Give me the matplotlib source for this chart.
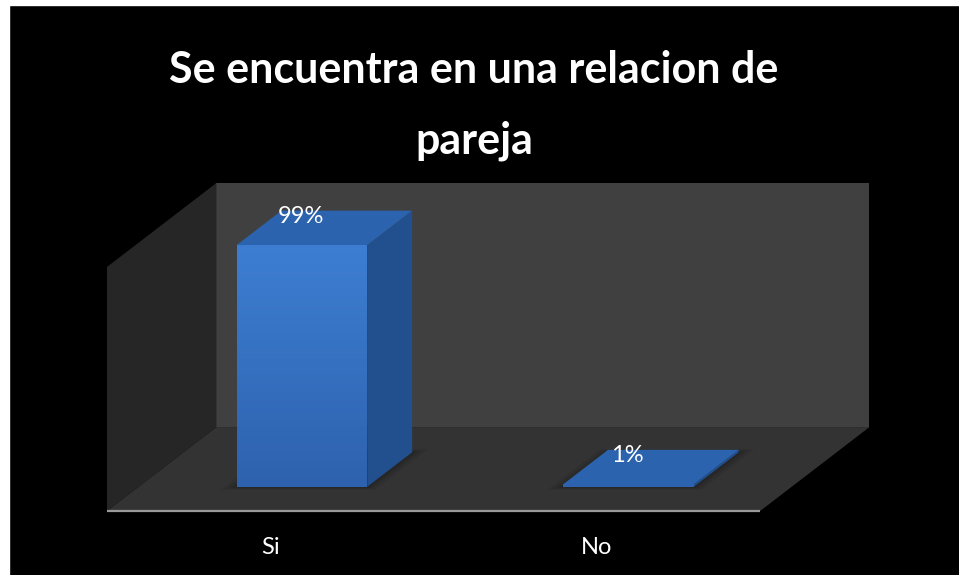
import numpy as np
import matplotlib
matplotlib.use("Agg")
import matplotlib.pyplot as plt
from matplotlib.patches import Polygon, Rectangle

# chart data
categories = ["Si", "No"]
values = [0.99, 0.01]
labels = ["99%", "1%"]
title_lines = ["Se encuentra en una relacion de", "pareja"]

# oblique 3d look: depth offset of the back plane, in data units
DX, DY = 0.335, 0.344
BAR_W = 0.4
BAR_D0, BAR_D1 = 0.29, 0.70

WALL = "#404040"
SIDE = "#262626"
FLOOR = "#333333"
FRONT_TOP, FRONT_BOT = "#3d7ed2", "#2e62ae"
TOP = "#2c63ae"
RIGHT = "#22508f"


def proj(x, v, d):
    return (x + d * DX, v + d * DY)


def poly(ax, pts, color, z=1, **kw):
    p = Polygon([proj(*q) for q in pts], closed=True, facecolor=color,
                edgecolor="none", zorder=z, **kw)
    ax.add_patch(p)
    return p


fig = plt.figure(figsize=(9.591, 5.751), dpi=100, facecolor="black")
ax = fig.add_axes([0, 0, 1, 1])
ax.set_facecolor("black")
ax.set_xlim(-0.8277, 2.1095)
ax.set_ylim(-0.262, 2.094)
ax.axis("off")

n = len(categories)
x0, x1 = -0.5, n - 0.5

# walls and floor
poly(ax, [(x0, 0, 1), (x1, 0, 1), (x1, 1, 1), (x0, 1, 1)], WALL)
poly(ax, [(x0, 0, 0), (x0, 0, 1), (x0, 1, 1), (x0, 1, 0)], SIDE)
poly(ax, [(x0, 0, 0), (x1, 0, 0), (x1, 0, 1), (x0, 0, 1)], FLOOR)
ax.plot([x0, x1], [0, 0], color="#9a9a9a", lw=1.6, zorder=2,
        solid_capstyle="butt")

# vertical gradient used for the bar fronts
grad = np.linspace(0, 1, 256).reshape(-1, 1)
cmap = matplotlib.colors.LinearSegmentedColormap.from_list(
    "barfront", [FRONT_BOT, FRONT_TOP])

for i, (v, lab) in enumerate(zip(values, labels)):
    l, r = i - BAR_W / 2, i + BAR_W / 2
    # faint shadow on the floor
    for k, a in enumerate([0.08, 0.08, 0.10]):
        e = 0.012 * (3 - k)
        poly(ax, [(l - e, 0, BAR_D0 - e), (r + e, 0, BAR_D0 - e),
                  (r + e, 0, BAR_D1 + e), (l - e, 0, BAR_D1 + e)],
             "black", z=2, alpha=a)
    front = poly(ax, [(l, 0, BAR_D0), (r, 0, BAR_D0),
                      (r, v, BAR_D0), (l, v, BAR_D0)], FRONT_BOT, z=3)
    if v > 0.05:
        fx, fy = proj(l, 0, BAR_D0)
        gx, gy = proj(r, v, BAR_D0)
        im = ax.imshow(grad, cmap=cmap, origin="lower", aspect="auto",
                       extent=[fx, gx, fy, gy], zorder=3.5)
        im.set_clip_path(front)
    poly(ax, [(r, 0, BAR_D0), (r, 0, BAR_D1), (r, v, BAR_D1),
              (r, v, BAR_D0)], RIGHT, z=4)
    poly(ax, [(l, v, BAR_D0), (r, v, BAR_D0), (r, v, BAR_D1),
              (l, v, BAR_D1)], TOP, z=5)
    lx, ly = proj(i - 0.075, v + 0.045, 0.5)
    ax.text(lx, ly, lab, color="white", fontsize=17, family="Lato",
            ha="center", va="center", zorder=6)
    ax.text(i, -0.148, categories[i], color="white", fontsize=17,
            family="Lato", ha="center", va="center", zorder=6)

# title, two centred lines
fig.text(474 / 959, 1 - 83 / 575, title_lines[0], color="white",
         fontsize=31, family="Lato", weight="bold", ha="center",
         va="baseline")
fig.text(474 / 959, 1 - 153 / 575, title_lines[1], color="white",
         fontsize=31, family="Lato", weight="bold", ha="center",
         va="baseline")

# white margin along the top and left edges
fig.patches.append(Rectangle((0, 1 - 5 / 575), 1, 5 / 575,
                             transform=fig.transFigure, color="white"))
fig.patches.append(Rectangle((0, 0), 9 / 959, 1,
                             transform=fig.transFigure, color="white"))

fig.savefig("out.png", dpi=100, facecolor=fig.get_facecolor())
